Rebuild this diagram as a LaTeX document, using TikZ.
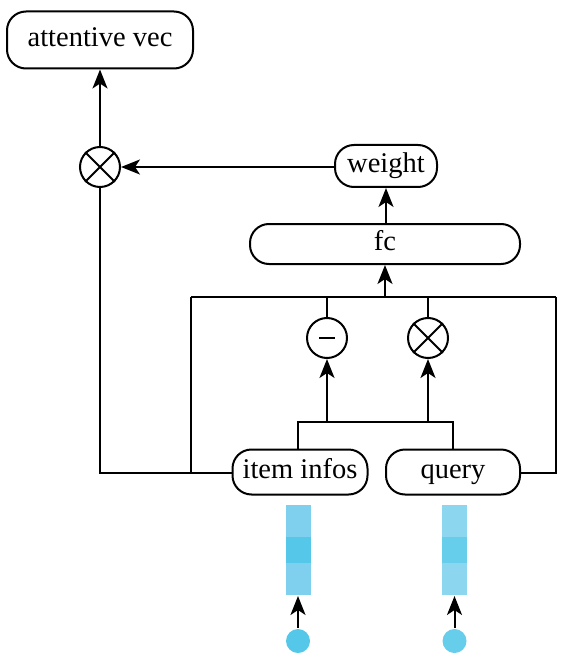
\documentclass[tikz,border=0pt]{standalone}
\usepackage{fontspec}
\setmainfont{Liberation Serif}
\usetikzlibrary{arrows.meta,calc}
\definecolor{cA}{HTML}{7FD0EE}
\definecolor{cB}{HTML}{55C8EA}
\definecolor{cC}{HTML}{8DD6EF}
\definecolor{cD}{HTML}{66CDEB}
\definecolor{dot}{HTML}{55C8EA}
\begin{document}
\begin{tikzpicture}[x=1pt,y=-1pt,
  line width=2pt,
  every node/.style={font=\fontsize{28.5}{31}\selectfont},
  pill/.style={draw, rounded corners=19pt, inner sep=0pt, minimum height=#1, text height=19pt, text depth=6pt},
  opnode/.style={draw, circle, minimum size=40pt, inner sep=0pt},
  arr/.style={-{Stealth[length=19pt,width=15pt,inset=5pt]}},
  seg/.style={draw=none, minimum width=25pt, minimum height=#1, inner sep=0pt}
]
\useasboundingbox (0,0) rectangle (567,660);
% boxes
\node[pill=57pt, minimum width=186pt] (att) at (100,40) {attentive vec};
\node[pill=42pt, minimum width=102pt] (w) at (386,166) {weight};
\node[pill=40pt, minimum width=270pt] (fc) at (385,244) {fc};
\node[pill=45pt, minimum width=135pt] (item) at (300,472) {item infos};
\node[pill=45pt, minimum width=134pt] (q) at (453,472) {query};
% operators
\node[opnode] (mul) at (100,167) {};
\node[opnode] (minus) at (327,338) {};
\node[opnode] (prod) at (428,338) {};
\draw (mul.45) -- (mul.225) (mul.135) -- (mul.315);
\draw (prod.45) -- (prod.225) (prod.135) -- (prod.315);
\draw ($(minus.center)+(-8,0)$) -- ($(minus.center)+(8,0)$);
% coordinates
\coordinate (barL) at (191,297);
\coordinate (barR) at (556,297);
\coordinate (fcIn) at (385,297);
\coordinate (lowL) at (100,473);
\coordinate (lowM) at (191,473);
\coordinate (qR) at (556,473);
\coordinate (jL) at (298,422);
\coordinate (jR) at (453,422);
% connectors
\draw[arr] (mul.north) -- (mul.north |- att.south);
\draw[arr] (w.west |- mul.east) -- (mul.east);
\draw[arr] (fc.north -| w.south) -- (w.south);
\draw[arr] (fcIn) -- (fc.south -| fcIn);
\draw (barL) -- (barR);
\draw (barL) -- (lowM);
\draw (mul.south) -- (lowL) -- (item.west |- lowL);
\draw (barR) -- (qR) -- (q.east |- qR);
\draw (minus.north) -- (minus.north |- barL);
\draw (prod.north) -- (prod.north |- barL);
\draw (item.north -| jL) -- (jL) -- (jR) -- (q.north -| jR);
\draw[arr] (jL -| minus.south) -- (minus.south);
\draw[arr] (jR -| prod.south) -- (prod.south);
% embeddings
\node[seg=32pt, fill=cA] (e1a) at (298,521) {};
\node[seg=26pt, fill=cB] (e1b) at (298,550) {};
\node[seg=32pt, fill=cA] (e1c) at (298,579) {};
\node[seg=32pt, fill=cC] (e2a) at (454.5,521) {};
\node[seg=26pt, fill=cD] (e2b) at (454.5,550) {};
\node[seg=32pt, fill=cC] (e2c) at (454.5,579) {};
\node[circle, fill=dot, minimum size=24pt, inner sep=0pt] (d1) at (298,641) {};
\node[circle, fill=cD, minimum size=24pt, inner sep=0pt] (d2) at (454.5,641) {};
\draw[arr] (d1.north) -- (e1c.south);
\draw[arr] (d2.north) -- (e2c.south);
\end{tikzpicture}
\end{document}
